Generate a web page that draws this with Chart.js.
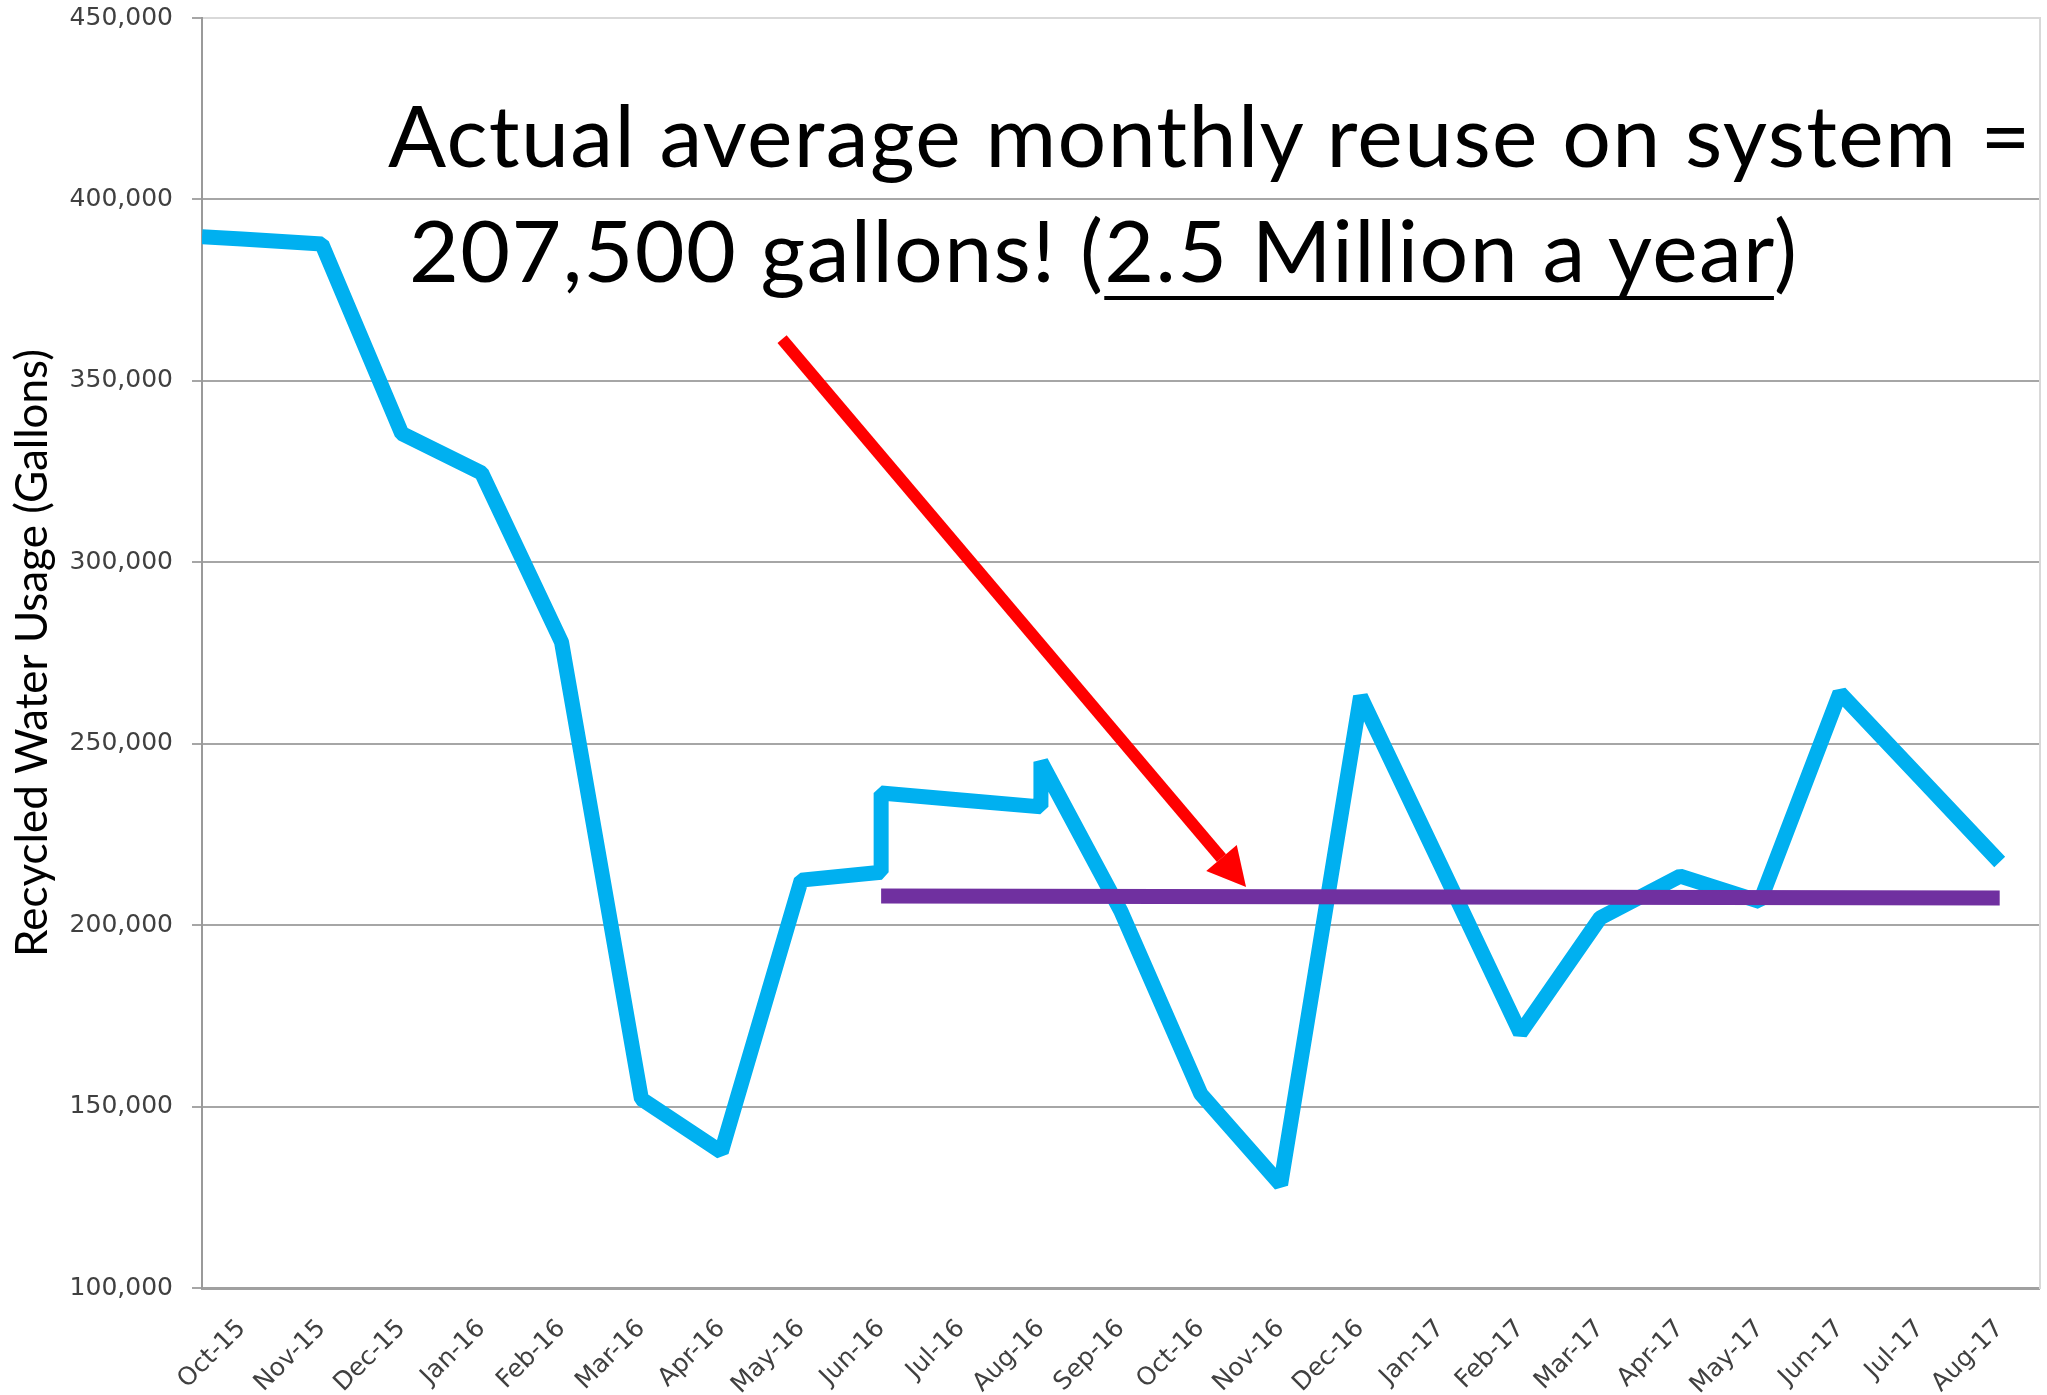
<!DOCTYPE html>
<html>
<head>
<meta charset="utf-8">
<script src="https://cdn.jsdelivr.net/npm/chart.js@4.4.0/dist/chart.umd.min.js"></script>
<style>
  body { margin: 0; background: #fff; }
  #wrap { position: relative; width: 2047px; height: 1395px; }
  .note {
    position: absolute;
    font-family: Lato, "Noto Sans", sans-serif;
    font-size: 86px;
    letter-spacing: 1.35px;
    line-height: 1.2;
    color: #000;
    white-space: nowrap;
  }
  .note u {
    text-decoration-thickness: 4px;
    text-underline-offset: 14px;
    text-decoration-skip-ink: none;
  }
</style>
</head>
<body>
<div id="wrap">
  <canvas id="chart" width="2047" height="1395"></canvas>
  <div class="note" id="line1" style="left:388px; top:82px;">Actual average monthly reuse on system =</div>
  <div class="note" id="line2" style="left:409px; top:197px;">207,500 gallons! (<u>2.5 Million a year</u>)</div>
</div>
<script>
const months = ['Oct-15', 'Nov-15', 'Dec-15', 'Jan-16', 'Feb-16', 'Mar-16', 'Apr-16', 'May-16',
  'Jun-16', 'Jul-16', 'Aug-16', 'Sep-16', 'Oct-16', 'Nov-16', 'Dec-16', 'Jan-17', 'Feb-17',
  'Mar-17', 'Apr-17', 'May-17', 'Jun-17', 'Jul-17', 'Aug-17'];

// hand-drawn usage trace: month index, gallons (steps at Jun-16 and Aug-16)
const usageX = [-0.5, 0, 1, 2, 3, 4, 5, 6, 7, 8, 8, 9, 10, 10, 11, 12, 13, 14, 15, 16, 17, 18, 19, 20, 21, 22];
const usageY = [389700, 389100, 387700, 335500, 324600, 278000, 152100, 137500, 212400, 214600, 236400,
  234500, 232600, 245000, 203900, 153500, 128500, 263000, 216700, 170300, 202000, 213500, 206500,
  264000, 240700, 217400];

// average line
const avgX = [8, 22];
const avgY = [208000, 207500];

// red arrow (tail, head base)
const arrowX = [6.76, 12.26];
const arrowY = [361500, 218500];

const toPoints = (xs, ys) => xs.map((x, i) => ({x, y: ys[i]}));

const arrowHead = {
  id: 'arrowHead',
  afterDatasetsDraw(chart) {
    chart.data.datasets.forEach((ds, i) => {
      if (!ds.arrow) return;
      const pts = chart.getDatasetMeta(i).data;
      const a = pts[pts.length - 2], b = pts[pts.length - 1];
      const dx = b.x - a.x, dy = b.y - a.y;
      const len = Math.hypot(dx, dy);
      const ux = dx / len, uy = dy / len;
      const L = 38, W = 20;
      const ctx = chart.ctx;
      ctx.save();
      ctx.fillStyle = ds.borderColor;
      ctx.beginPath();
      ctx.moveTo(b.x + ux * L, b.y + uy * L);
      ctx.lineTo(b.x - uy * W, b.y + ux * W);
      ctx.lineTo(b.x + uy * W, b.y - ux * W);
      ctx.closePath();
      ctx.fill();
      ctx.restore();
    });
  }
};

const tickFont = {family: '"DejaVu Sans", Verdana, sans-serif', size: 25};

new Chart(document.getElementById('chart'), {
  type: 'line',
  data: {
    datasets: [
      {
        label: 'arrow',
        arrow: true,
        data: toPoints(arrowX, arrowY),
        borderColor: '#ff0000',
        borderWidth: 12,
        pointRadius: 0,
        clip: false
      },
      {
        label: 'Average',
        data: toPoints(avgX, avgY),
        borderColor: '#7030a0',
        borderWidth: 15,
        pointRadius: 0
      },
      {
        label: 'Recycled Water Usage',
        data: toPoints(usageX, usageY),
        borderColor: '#00b0f0',
        borderWidth: 15,
        borderJoinStyle: 'bevel',
        pointRadius: 0,
        tension: 0
      }
    ]
  },
  options: {
    responsive: false,
    animation: false,
    events: [],
    layout: {padding: {top: 18, right: 2, bottom: 0, left: 0}},
    plugins: {legend: {display: false}, tooltip: {enabled: false}},
    scales: {
      x: {
        type: 'linear',
        min: -0.5,
        max: 22.5,
        afterBuildTicks: s => { s.ticks = months.map((m, i) => ({value: i})); },
        afterFit: s => { s.height = 107; },
        ticks: {
          autoSkip: false,
          minRotation: 45,
          maxRotation: 45,
          padding: 26,
          font: tickFont,
          color: '#404040',
          callback: v => months[v]
        },
        grid: {display: false, drawTicks: false},
        border: {display: true, color: '#a0a0a0', width: 3}
      },
      y: {
        min: 100000,
        max: 450000,
        afterFit: s => { s.width = 202; s.paddingTop = 0; s.paddingBottom = 0; },
        ticks: {
          stepSize: 50000,
          padding: 19,
          font: tickFont,
          color: '#404040',
          callback: v => v.toLocaleString('en-US')
        },
        grid: {
          color: c => c.tick && c.tick.value === 450000 ? '#d9d9d9' : '#a6a6a6',
          lineWidth: 2,
          tickLength: 10,
          tickColor: '#a6a6a6'
        },
        border: {display: true, color: '#9a9a9a', width: 2},
        title: {
          display: true,
          text: 'Recycled Water Usage (Gallons)',
          color: '#000',
          font: {family: 'Lato, "Noto Sans", sans-serif', size: 44},
          padding: {top: 6, bottom: 0}
        }
      },
      y2: {
        position: 'right',
        min: 100000,
        max: 450000,
        afterFit: s => { s.width = 2; s.paddingTop = 0; s.paddingBottom = 0; },
        ticks: {display: false},
        grid: {display: false, drawTicks: false},
        border: {display: true, color: '#d9d9d9', width: 2}
      }
    }
  },
  plugins: [arrowHead]
});
</script>
</body>
</html>
